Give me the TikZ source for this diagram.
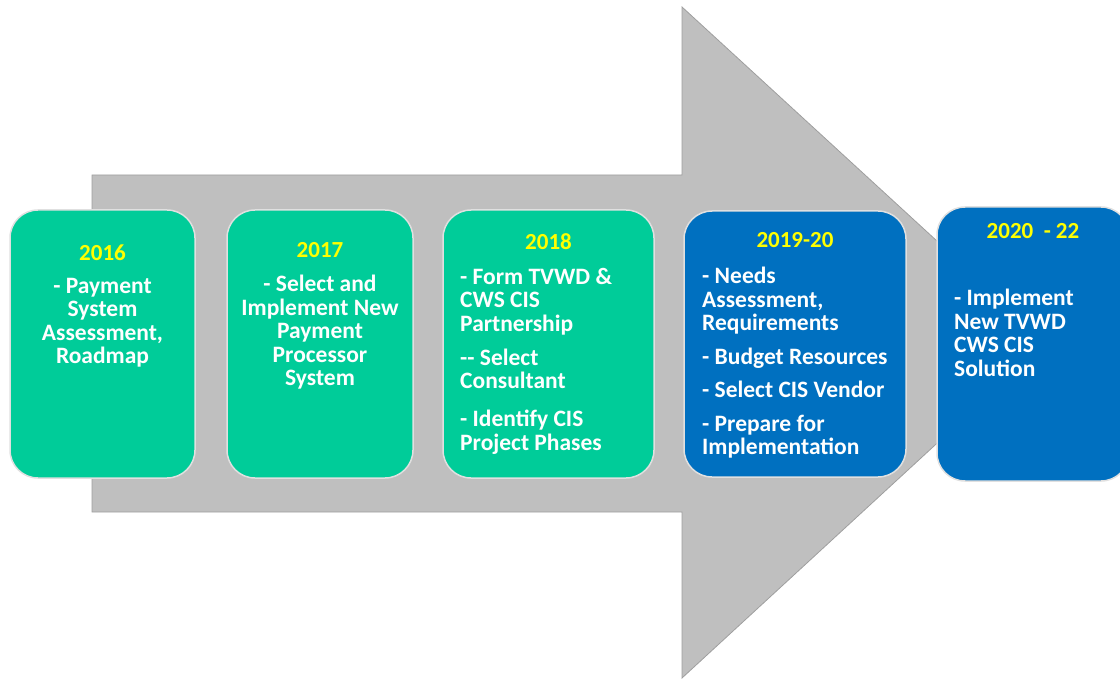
\documentclass[tikz,border=0pt]{standalone}
\usepackage{fontspec}
\setmainfont{Carlito}
\usepackage{tikz}
\usetikzlibrary{positioning}
\definecolor{shaftgray}{HTML}{BFBFBF}
\definecolor{stepgreen}{HTML}{00CC99}
\definecolor{stepblue}{HTML}{0070C0}
\definecolor{yearyellow}{HTML}{FFFF00}
\tikzstyle{step_box} = [rectangle, rounded corners=28pt, draw=white!88!black, line width=1.5pt, outer sep=0pt, inner sep=0pt]
\tikzstyle{green_box} = [step_box, fill=stepgreen]
\tikzstyle{blue_box} = [step_box, fill=stepblue]
\tikzstyle{year} = [inner sep=0pt, text=yearyellow, font=\fontsize{23}{23.5}\selectfont\bfseries, text height=15pt, text depth=0pt]
\tikzstyle{tasks} = [inner sep=0pt, text=white, font=\fontsize{23.5}{23.5}\selectfont\bfseries]
\tikzstyle{tasks_mid} = [tasks, align=center]
\tikzstyle{tasks_left} = [tasks, align=left]

\begin{document}
\begin{tikzpicture}[x=1pt, y=-1pt]
    \useasboundingbox (0,0) rectangle (1120,679);

    \fill[shaftgray, draw=gray!75!white, line width=0.8pt] (92,175) -- (682,175) -- (682,7) -- (1047,342)
      -- (682,678) -- (682,512) -- (92,512) -- cycle;

    \node(B2016)[green_box, minimum width=185pt, minimum height=268pt] at (102.5,344) {};
    \node(B2017)[green_box, minimum width=186pt, minimum height=268pt] at (320,344) {};
    \node(B2018)[green_box, minimum width=211pt, minimum height=268pt] at (548.5,344) {};
    \node(B2019)[blue_box, minimum width=222pt, minimum height=266pt] at (795,344) {};
    \node(B2020)[blue_box, minimum width=192pt, minimum height=274pt] at (1033,344) {};

    \node(Y2016)[year, below=35pt of B2016.north]{2016};
    \node(T2016)[tasks_mid, below=68pt of B2016.north]{- Payment\\System\\Assessment,\\Roadmap};

    \node(Y2017)[year, below=32pt of B2017.north]{2017};
    \node(T2017)[tasks_mid, below=65pt of B2017.north]{- Select and\\Implement New\\Payment\\Processor\\System};

    \node(Y2018)[year, below=24pt of B2018.north]{2018};
    \node(T2018)[tasks_left, below right=58pt and 17pt of B2018.north west]{- Form TVWD \&\\CWS CIS\\Partnership\\[10.5pt]
      -{}- Select\\Consultant\\[14.5pt]- Identify CIS\\Project Phases};

    \node(Y2019)[year, below=21pt of B2019.north]{2019-20};
    \node(T2019)[tasks_left, below right=56pt and 18pt of B2019.north west]{- Needs\\Assessment,\\Requirements\\[10pt]
      - Budget Resources\\[10pt]- Select CIS Vendor\\[10pt]- Prepare for\\Implementation};

    \node(Y2020)[year, below=16pt of B2020.north]{2020~ - 22};
    \node(T2020)[tasks_left, below right=82pt and 17pt of B2020.north west]{- Implement\\New TVWD\\CWS CIS\\Solution};

\end{tikzpicture}
\end{document}
